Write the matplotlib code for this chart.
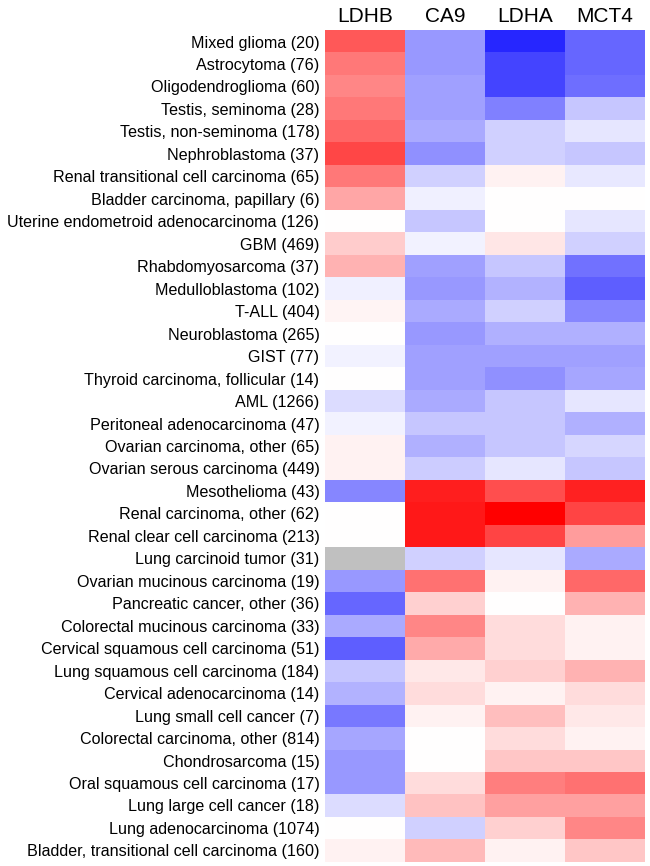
import matplotlib
matplotlib.use('Agg')
import matplotlib.pyplot as plt
import numpy as np

plt.rcParams['font.family'] = ['Liberation Sans', 'DejaVu Sans']

genes = ['LDHB', 'CA9', 'LDHA', 'MCT4']

tumours = [
    'Mixed glioma (20)', 'Astrocytoma (76)', 'Oligodendroglioma (60)',
    'Testis, seminoma (28)', 'Testis, non-seminoma (178)', 'Nephroblastoma (37)',
    'Renal transitional cell carcinoma (65)', 'Bladder carcinoma, papillary (6)',
    'Uterine endometroid adenocarcinoma (126)', 'GBM (469)',
    'Rhabdomyosarcoma (37)', 'Medulloblastoma (102)', 'T-ALL (404)',
    'Neuroblastoma (265)', 'GIST (77)', 'Thyroid carcinoma, follicular (14)',
    'AML (1266)', 'Peritoneal adenocarcinoma (47)', 'Ovarian carcinoma, other (65)',
    'Ovarian serous carcinoma (449)', 'Mesothelioma (43)',
    'Renal carcinoma, other (62)', 'Renal clear cell carcinoma (213)',
    'Lung carcinoid tumor (31)', 'Ovarian mucinous carcinoma (19)',
    'Pancreatic cancer, other (36)', 'Colorectal mucinous carcinoma (33)',
    'Cervical squamous cell carcinoma (51)', 'Lung squamous cell carcinoma (184)',
    'Cervical adenocarcinoma (14)', 'Lung small cell cancer (7)',
    'Colorectal carcinoma, other (814)', 'Chondrosarcoma (15)',
    'Oral squamous cell carcinoma (17)', 'Lung large cell cancer (18)',
    'Lung adenocarcinoma (1074)', 'Bladder, transitional cell carcinoma (160)',
]

# per-gene scores (red = positive, blue = negative), NaN = no data
ldhb = [0.65, 0.53, 0.47, 0.53, 0.6, 0.72, 0.53, 0.35, 0.0, 0.2,
        0.3, -0.06, 0.04, 0.0, -0.05, 0.0, -0.14, -0.05, 0.05, 0.05,
        -0.47, 0.0, 0.0, np.nan, -0.4, -0.6, -0.33, -0.63, -0.22, -0.3,
        -0.53, -0.35, -0.4, -0.4, -0.14, 0.0, 0.05]
ca9 = [-0.4, -0.4, -0.37, -0.37, -0.33, -0.43, -0.18, -0.06, -0.22, -0.05,
       -0.37, -0.4, -0.33, -0.4, -0.37, -0.37, -0.33, -0.22, -0.31, -0.2,
       0.88, 0.9, 0.9, -0.18, 0.55, 0.18, 0.47, 0.33, 0.09, 0.14,
       0.05, 0.0, 0.0, 0.14, 0.24, -0.18, 0.27]
ldha = [-0.85, -0.73, -0.73, -0.5, -0.18, -0.18, 0.05, 0.0, 0.0, 0.1,
        -0.22, -0.3, -0.18, -0.31, -0.37, -0.43, -0.22, -0.22, -0.22, -0.1,
        0.69, 1.0, 0.73, -0.1, 0.05, 0.0, 0.14, 0.14, 0.18, 0.05,
        0.25, 0.14, 0.22, 0.5, 0.37, 0.18, 0.05]
mct4 = [-0.6, -0.6, -0.57, -0.22, -0.1, -0.22, -0.09, 0.0, -0.1, -0.18,
        -0.55, -0.63, -0.47, -0.31, -0.37, -0.35, -0.1, -0.31, -0.16, -0.22,
        0.86, 0.73, 0.39, -0.33, 0.59, 0.3, 0.05, 0.05, 0.3, 0.14,
        0.09, 0.05, 0.22, 0.55, 0.37, 0.47, 0.22]

data = np.column_stack([ldhb, ca9, ldha, mct4])
data = np.ma.masked_invalid(data)

cmap = plt.get_cmap('bwr').copy()
cmap.set_bad('#c0c0c0')

fig = plt.figure(figsize=(6.5, 8.66), dpi=100)
ax = fig.add_axes([0.5, 0.005, 0.492, 0.96])
ax.imshow(data, cmap=cmap, vmin=-1, vmax=1, aspect='auto', interpolation='nearest')

ax.set_yticks(range(len(tumours)))
ax.set_yticklabels(tumours, fontsize=11.6)
ax.set_xticks(range(len(genes)))
ax.set_xticklabels(genes, fontsize=15)
ax.xaxis.tick_top()
ax.tick_params(axis='y', length=0, pad=4)
ax.tick_params(axis='x', length=0, pad=3)
for s in ax.spines.values():
    s.set_visible(False)

fig.savefig('out.png', dpi=100)
